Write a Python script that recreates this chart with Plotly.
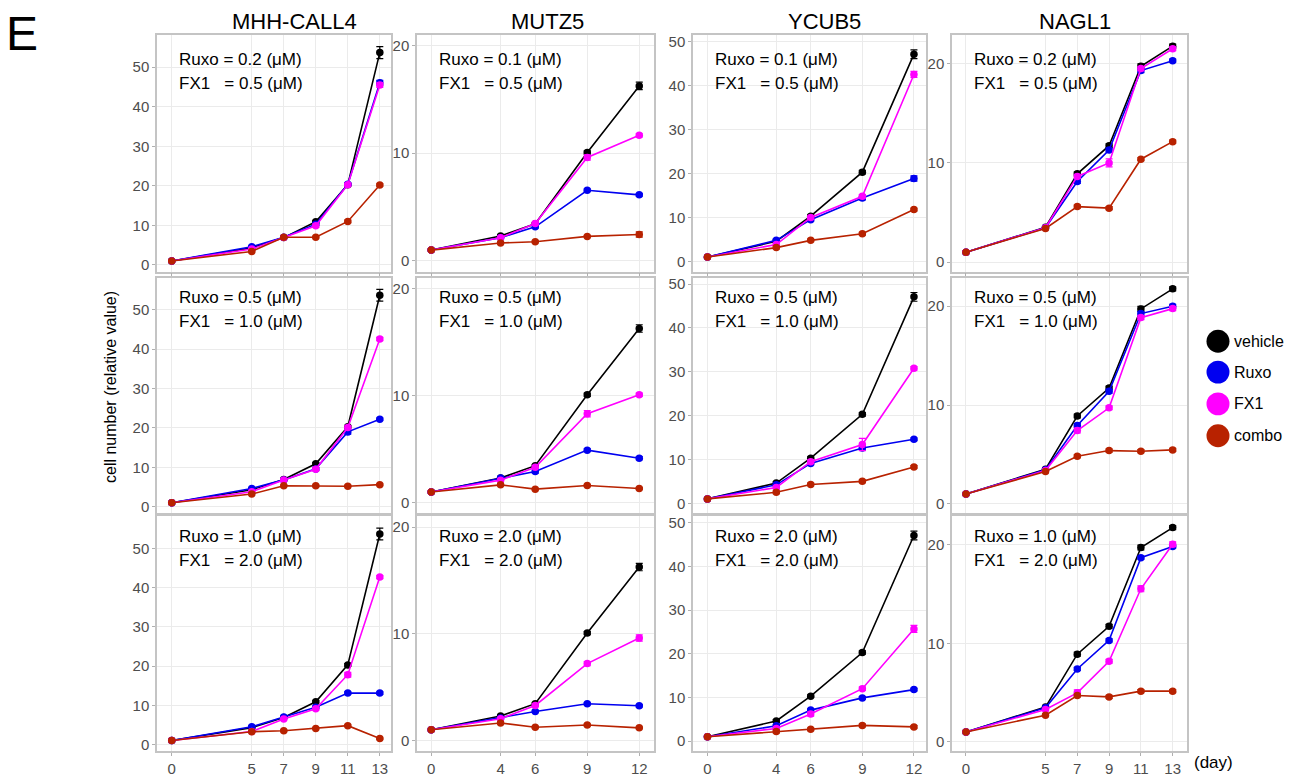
import plotly.graph_objects as go

W, H = 1290, 778
FONT = "Liberation Sans, Arial, sans-serif"

# ---------------- data ----------------
CELL_LINES = ["MHH-CALL4", "MUTZ5", "YCUB5", "NAGL1"]
DAYS = {
    "MHH-CALL4": [0, 5, 7, 9, 11, 13],
    "MUTZ5": [0, 4, 6, 9, 12],
    "YCUB5": [0, 4, 6, 9, 12],
    "NAGL1": [0, 5, 7, 9, 11, 13],
}
Y_TICKS = {
    "MHH-CALL4": [0, 10, 20, 30, 40, 50],
    "MUTZ5": [0, 10, 20],
    "YCUB5": [0, 10, 20, 30, 40, 50],
    "NAGL1": [0, 10, 20],
}
# doses per row (rows = dose levels), per column (cell line)
RUXO_DOSE = [["0.2", "0.1", "0.1", "0.2"],
             ["0.5", "0.5", "0.5", "0.5"],
             ["1.0", "2.0", "2.0", "1.0"]]
FX1_DOSE = [["0.5", "0.5", "0.5", "0.5"],
            ["1.0", "1.0", "1.0", "1.0"],
            ["2.0", "2.0", "2.0", "2.0"]]

SERIES = ["vehicle", "Ruxo", "FX1", "combo"]
COLORS = {"vehicle": "#000000", "Ruxo": "#0000F0", "FX1": "#FF00FF", "combo": "#B82200"}

# vehicle (same control for every dose row)
VEHICLE = {
    "MHH-CALL4": [1, 4.3, 6.9, 10.9, 20.3, 53.7],
    "MUTZ5": [1, 2.3, 3.45, 10.06, 16.25],
    "YCUB5": [1, 4.6, 10.3, 20.3, 47.1],
    "NAGL1": [1, 3.52, 8.9, 11.73, 19.73, 21.76],
}
VEHICLE_ERR = {
    "MHH-CALL4": [0, 0.2, 0.2, 0.3, 0.3, 1.5],
    "MUTZ5": [0, 0.1, 0.1, 0.15, 0.35],
    "YCUB5": [0, 0.3, 0.3, 0.4, 1.0],
    "NAGL1": [0, 0.1, 0.2, 0.2, 0.25, 0.2],
}

# treated series: list of 3 rows per cell line
RUXO = {
    "MHH-CALL4": [[1, 4.6, 7.0, 10.3, 20.4, 46.1],
                  [1, 4.6, 6.8, 9.6, 19.0, 22.2],
                  [1, 4.5, 7.0, 9.5, 13.1, 13.1]],
    "MUTZ5": [[1, 2.15, 3.16, 6.56, 6.13],
              [1, 2.3, 2.9, 4.9, 4.15],
              [1, 2.1, 2.72, 3.44, 3.25]],
    "YCUB5": [[1, 4.8, 9.5, 14.4, 18.85],
              [1, 4.2, 9.1, 12.6, 14.6],
              [1, 3.5, 7.1, 9.9, 11.8]],
    "NAGL1": [[1, 3.47, 8.13, 11.3, 19.3, 20.3],
              [1, 3.45, 7.94, 11.4, 19.26, 20.0],
              [1, 3.45, 7.4, 10.3, 18.7, 19.83]],
}
FX1 = {
    "MHH-CALL4": [[1, 4.0, 6.9, 9.9, 20.3, 45.5],
                  [1, 3.8, 6.8, 9.5, 20.1, 42.6],
                  [1, 3.3, 6.5, 9.1, 17.8, 42.7]],
    "MUTZ5": [[1, 2.15, 3.47, 9.6, 11.66],
              [1, 2.1, 3.3, 8.3, 10.06],
              [1, 2.04, 3.28, 7.2, 9.6]],
    "YCUB5": [[1, 3.85, 10.0, 14.8, 42.5],
              [1, 3.6, 9.5, 13.4, 30.8],
              [1, 2.9, 6.2, 12.0, 25.7]],
    "NAGL1": [[1, 3.47, 8.64, 10.0, 19.5, 21.5],
              [1, 3.38, 7.43, 9.73, 18.85, 19.76],
              [1, 3.28, 4.97, 8.18, 15.54, 20.07]],
}
COMBO = {
    "MHH-CALL4": [[1, 3.4, 7.0, 7.0, 11.0, 20.2],
                  [1, 3.2, 5.3, 5.3, 5.2, 5.6],
                  [1, 3.25, 3.5, 4.1, 4.8, 1.5]],
    "MUTZ5": [[1, 1.66, 1.78, 2.27, 2.45],
              [1, 1.66, 1.26, 1.6, 1.32],
              [1, 1.64, 1.24, 1.45, 1.18]],
    "YCUB5": [[1, 3.15, 4.8, 6.3, 11.8],
              [1, 2.5, 4.3, 5.0, 8.3],
              [1, 2.2, 2.7, 3.6, 3.25]],
    "NAGL1": [[1, 3.4, 5.6, 5.44, 10.37, 12.14],
              [1, 3.28, 4.83, 5.4, 5.34, 5.47],
              [1, 2.7, 4.7, 4.56, 5.14, 5.14]],
}
RUXO_ERR = {
    "MHH-CALL4": [[0, 0.2, 0.2, 0.3, 0.3, 0.6], [0, 0.2, 0.2, 0.3, 0.6, 0.3], [0, 0.2, 0.2, 0.3, 0.3, 0.3]],
    "MUTZ5": [[0, 0.08, 0.1, 0.1, 0.12], [0, 0.08, 0.15, 0.12, 0.15], [0, 0.08, 0.1, 0.1, 0.1]],
    "YCUB5": [[0, 0.3, 0.3, 0.4, 0.6], [0, 0.3, 0.3, 0.5, 0.3], [0, 0.3, 0.3, 0.3, 0.3]],
    "NAGL1": [[0, 0.1, 0.2, 0.2, 0.2, 0.15], [0, 0.1, 0.2, 0.2, 0.2, 0.2], [0, 0.1, 0.15, 0.15, 0.15, 0.15]],
}
FX1_ERR = {
    "MHH-CALL4": [[0, 0.2, 0.2, 0.4, 0.3, 0.6], [0, 0.2, 0.2, 0.4, 0.5, 0.4], [0, 0.2, 0.2, 0.3, 0.6, 0.4]],
    "MUTZ5": [[0, 0.08, 0.1, 0.25, 0.15], [0, 0.08, 0.1, 0.3, 0.15], [0, 0.08, 0.1, 0.2, 0.3]],
    "YCUB5": [[0, 0.3, 0.3, 0.4, 0.7], [0, 0.3, 0.4, 1.4, 0.4], [0, 0.3, 0.5, 0.4, 0.8]],
    "NAGL1": [[0, 0.1, 0.2, 0.4, 0.2, 0.2], [0, 0.1, 0.25, 0.2, 0.2, 0.2], [0, 0.1, 0.3, 0.2, 0.3, 0.25]],
}
COMBO_ERR = {
    "MHH-CALL4": [[0, 0.2, 0.2, 0.2, 0.3, 0.3], [0, 0.2, 0.2, 0.2, 0.2, 0.2], [0, 0.2, 0.2, 0.2, 0.2, 0.2]],
    "MUTZ5": [[0, 0.08, 0.08, 0.08, 0.25], [0, 0.08, 0.08, 0.08, 0.08], [0, 0.08, 0.08, 0.08, 0.08]],
    "YCUB5": [[0, 0.3, 0.3, 0.3, 0.3], [0, 0.3, 0.3, 0.3, 0.3], [0, 0.3, 0.3, 0.3, 0.3]],
    "NAGL1": [[0, 0.1, 0.15, 0.15, 0.15, 0.15], [0, 0.1, 0.15, 0.15, 0.15, 0.15], [0, 0.1, 0.15, 0.15, 0.15, 0.15]],
}

# ---------------- layout geometry (pixels) ----------------
COL_PX = [(157, 391), (417, 654), (693, 926), (952, 1187)]
ROW_PX = [(33, 271), (277, 514), (517, 753)]
X_RANGE = {"MHH-CALL4": [-0.92, 13.7], "MUTZ5": [-0.82, 12.85],
           "YCUB5": [-0.84, 12.7], "NAGL1": [-0.88, 13.9]}
Y_RANGE = {"MHH-CALL4": [-1.7, 58.2], "MUTZ5": [-1.0, 21.0],
           "YCUB5": [-2.3, 51.5], "NAGL1": [-0.95, 22.9]}
TITLE_X = [294, 547, 824, 1075]
ANN_Y = [(58, 82), (297, 321), (537, 561)]


def px(x):
    return x / W


def py(y):
    return 1 - y / H


fig = go.Figure()
annotations = []
shapes = []

for r in range(3):
    for c, cl in enumerate(CELL_LINES):
        idx = r * 4 + c + 1
        xa = "x" if idx == 1 else f"x{idx}"
        ya = "y" if idx == 1 else f"y{idx}"
        days = DAYS[cl]
        data = {
            "vehicle": (VEHICLE[cl], VEHICLE_ERR[cl]),
            "Ruxo": (RUXO[cl][r], RUXO_ERR[cl][r]),
            "FX1": (FX1[cl][r], FX1_ERR[cl][r]),
            "combo": (COMBO[cl][r], COMBO_ERR[cl][r]),
        }
        for s in SERIES:
            vals, err = data[s]
            col = COLORS[s]
            fig.add_trace(go.Scatter(
                x=days, y=vals, mode="lines+markers", xaxis=xa, yaxis=ya,
                line=dict(color=col, width=1.6),
                marker=dict(size=7.5, color=col),
                error_y=dict(type="data", array=err, color=col, thickness=1.2, width=3.5),
                showlegend=False, name=s,
            ))
        xkey = "xaxis" if idx == 1 else f"xaxis{idx}"
        ykey = "yaxis" if idx == 1 else f"yaxis{idx}"
        fig.layout[xkey] = dict(
            domain=[px(COL_PX[c][0]), px(COL_PX[c][1])],
            anchor=ya, range=X_RANGE[cl],
            tickmode="array", tickvals=days, ticktext=[str(d) for d in days],
            showticklabels=(r == 2),
            ticks="outside", ticklen=3, tickcolor="#b0b0b0",
            showgrid=True, gridcolor="#EBEBEB", gridwidth=1,
            zeroline=False, showline=True, mirror=True,
            linecolor="#C4C4C4", linewidth=1.5,
            tickfont=dict(family=FONT, size=15, color="#4D4D4D"),
        )
        fig.layout[ykey] = dict(
            domain=[py(ROW_PX[r][1]), py(ROW_PX[r][0])],
            anchor=xa, range=Y_RANGE[cl],
            tickmode="array", tickvals=Y_TICKS[cl],
            ticks="outside", ticklen=3, tickcolor="#b0b0b0",
            showgrid=True, gridcolor="#EBEBEB", gridwidth=1,
            zeroline=False, showline=True, mirror=True,
            linecolor="#C4C4C4", linewidth=1.5,
            tickfont=dict(family=FONT, size=15, color="#4D4D4D"),
        )
        # dose annotations
        annotations.append(dict(
            x=px(COL_PX[c][0] + 20), y=py(ANN_Y[r][0]), xref="paper", yref="paper",
            xanchor="left", yanchor="middle", showarrow=False,
            text=f"Ruxo = {RUXO_DOSE[r][c]} (\u03bcM)",
            font=dict(family=FONT, size=17, color="#000000")))
        annotations.append(dict(
            x=px(COL_PX[c][0] + 20), y=py(ANN_Y[r][1]), xref="paper", yref="paper",
            xanchor="left", yanchor="middle", showarrow=False,
            text=f"FX1\u00a0\u00a0\u00a0= {FX1_DOSE[r][c]} (\u03bcM)",
            font=dict(family=FONT, size=17, color="#000000")))

# column titles
for c, cl in enumerate(CELL_LINES):
    annotations.append(dict(
        x=px(TITLE_X[c]), y=py(20), xref="paper", yref="paper",
        xanchor="center", yanchor="middle", showarrow=False, text=cl,
        font=dict(family=FONT, size=22, color="#000000")))

# panel letter
annotations.append(dict(x=px(4), y=py(32), xref="paper", yref="paper",
                        xanchor="left", yanchor="middle", showarrow=False, text="E",
                        font=dict(family=FONT, size=48, color="#000000")))
# y-axis title
annotations.append(dict(x=px(110), y=py(387), xref="paper", yref="paper",
                        xanchor="center", yanchor="middle", showarrow=False,
                        text="cell number (relative value)", textangle=-90,
                        font=dict(family=FONT, size=16, color="#000000")))
# x unit
annotations.append(dict(x=px(1192), y=py(764), xref="paper", yref="paper",
                        xanchor="left", yanchor="middle", showarrow=False,
                        text="(day)", font=dict(family=FONT, size=17, color="#000000")))

# legend
LEG_Y = [341, 372, 404, 436]
for s, ly in zip(SERIES, LEG_Y):
    cx, rad = 1218, 11.5
    shapes.append(dict(type="circle", xref="paper", yref="paper",
                       x0=px(cx - rad), x1=px(cx + rad), y0=py(ly + rad), y1=py(ly - rad),
                       fillcolor=COLORS[s], line=dict(width=0)))
    annotations.append(dict(x=px(1232), y=py(ly), xref="paper", yref="paper",
                            xanchor="left", yanchor="middle", showarrow=False, text=s,
                            font=dict(family=FONT, size=16, color="#000000")))

fig.update_layout(
    width=W, height=H, margin=dict(l=0, r=0, t=0, b=0),
    paper_bgcolor="white", plot_bgcolor="white",
    annotations=annotations, shapes=shapes, showlegend=False,
)

fig.write_html("out.html")
